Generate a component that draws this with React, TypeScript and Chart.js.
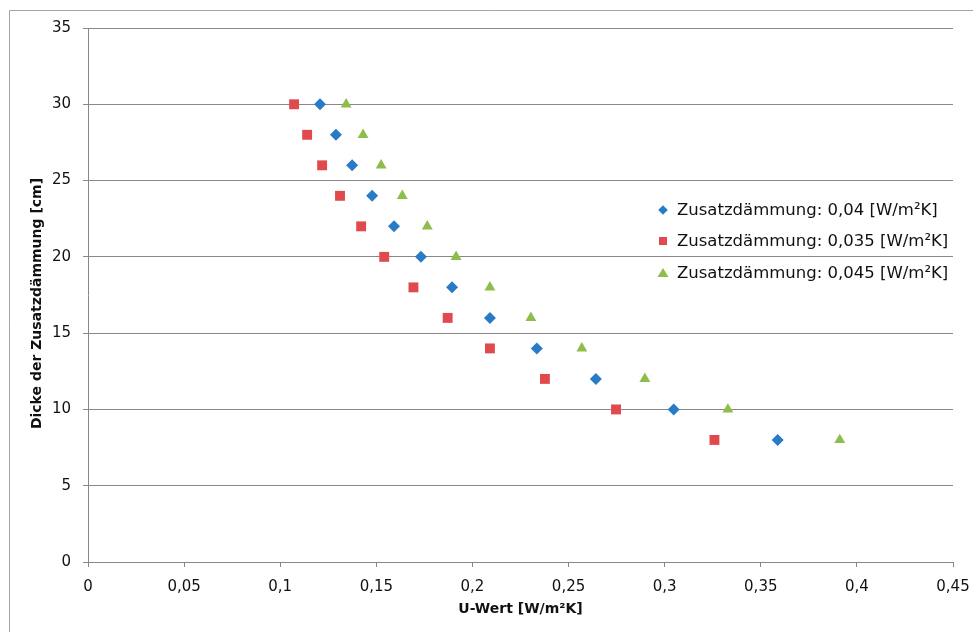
import React, { useEffect, useRef } from "react";
import { Chart, registerables } from "chart.js";

Chart.register(...registerables);

const thicknessCm = [30, 28, 26, 24, 22, 20, 18, 16, 14, 12, 10, 8];
const uValue040 = [0.1207, 0.129, 0.1374, 0.1478, 0.1592, 0.1732, 0.1894, 0.2091, 0.2335, 0.2642, 0.3047, 0.3588];
const uValue035 = [0.1072, 0.114, 0.1218, 0.1311, 0.1421, 0.1541, 0.1693, 0.1871, 0.2091, 0.2377, 0.2747, 0.3259];
const uValue045 = [0.1343, 0.1431, 0.1525, 0.1635, 0.1765, 0.1915, 0.2091, 0.2304, 0.2569, 0.2897, 0.3329, 0.3911];

const seriesLabels = [
  "Zusatzdämmung: 0,04 [W/m²K]",
  "Zusatzdämmung: 0,035 [W/m²K]",
  "Zusatzdämmung: 0,045 [W/m²K]",
];
const xTitle = "U-Wert [W/m²K]";
const yTitle = "Dicke der Zusatzdämmung [cm]";

const COLORS = ["#2a7bc6", "#e04a4c", "#8dbd4b"];
const FONT = "'DejaVu Sans', sans-serif";
const GRID = "#888888";

function pts(xs: number[]) {
  return xs.map((x, i) => ({ x, y: thicknessCm[i] }));
}

function fmt(v: number) {
  return String(Number(Number(v).toFixed(3))).replace(".", ",");
}

function drawMarker(ctx: CanvasRenderingContext2D, style: string, x: number, y: number, color: string) {
  ctx.save();
  ctx.fillStyle = color;
  ctx.beginPath();
  if (style === "rectRot") {
    const r = 4.8;
    ctx.moveTo(x, y - r);
    ctx.lineTo(x + r, y);
    ctx.lineTo(x, y + r);
    ctx.lineTo(x - r, y);
    ctx.closePath();
  } else if (style === "rect") {
    ctx.rect(x - 4, y - 4, 8, 8);
  } else {
    ctx.moveTo(x, y - 5);
    ctx.lineTo(x + 5.5, y + 4);
    ctx.lineTo(x - 5.5, y + 4);
    ctx.closePath();
  }
  ctx.fill();
  ctx.restore();
}

const decorPlugin = {
  id: "decor",
  beforeDraw(chart: any) {
    const ctx = chart.ctx as CanvasRenderingContext2D;
    ctx.save();
    ctx.strokeStyle = "#a4a4a4";
    ctx.lineWidth = 1;
    ctx.beginPath();
    ctx.moveTo(9.5, chart.height);
    ctx.lineTo(9.5, 10.5);
    ctx.lineTo(chart.width, 10.5);
    ctx.stroke();
    ctx.restore();
  },
  afterDraw(chart: any) {
    const ctx = chart.ctx as CanvasRenderingContext2D;
    const area = chart.chartArea;
    ctx.save();
    ctx.fillStyle = "#111";
    ctx.font = `bold 14px ${FONT}`;
    ctx.textAlign = "center";
    ctx.textBaseline = "middle";
    ctx.fillText(xTitle, (area.left + area.right) / 2, 609);
    ctx.save();
    ctx.translate(37.5, 303.5);
    ctx.rotate(-Math.PI / 2);
    ctx.fillText(yTitle, 0, 0);
    ctx.restore();
    const rows = [210, 241, 273];
    ctx.font = `16.5px ${FONT}`;
    ctx.textAlign = "left";
    chart.data.datasets.forEach((ds: any, i: number) => {
      drawMarker(ctx, ds.pointStyle, 663, rows[i], ds.backgroundColor);
      ctx.fillStyle = "#111";
      ctx.fillText(ds.label, 677, rows[i] + 1);
    });
    ctx.restore();
  },
};

export default function App() {
  const ref = useRef<HTMLCanvasElement | null>(null);
  useEffect(() => {
    if (!ref.current) return;
    const chart = new Chart(ref.current, {
      type: "scatter",
      data: {
        datasets: [
          {
            label: seriesLabels[0],
            data: pts(uValue040),
            backgroundColor: COLORS[0],
            borderColor: COLORS[0],
            borderWidth: 0,
            pointStyle: "rectRot",
            pointRadius: 6,
          },
          {
            label: seriesLabels[1],
            data: pts(uValue035),
            backgroundColor: COLORS[1],
            borderColor: COLORS[1],
            borderWidth: 0,
            pointStyle: "rect",
            pointRadius: 7,
          },
          {
            label: seriesLabels[2],
            data: pts(uValue045),
            backgroundColor: COLORS[2],
            borderColor: COLORS[2],
            borderWidth: 0,
            pointStyle: "triangle",
            pointRadius: 6.3,
          },
        ],
      },
      options: {
        responsive: false,
        animation: false,
        devicePixelRatio: 1,
        layout: { padding: { left: 0, top: 28, right: 20, bottom: 0 } },
        plugins: {
          legend: { display: false },
          tooltip: { enabled: false },
          title: { display: false },
        },
        scales: {
          x: {
            type: "linear",
            min: 0,
            max: 0.45,
            afterFit: (s: any) => {
              s.height = 70;
              s.paddingLeft = 0;
              s.paddingRight = 0;
            },
            ticks: {
              stepSize: 0.05,
              padding: 11,
              color: "#111",
              font: { family: FONT, size: 15 },
              callback: (v: any) => fmt(v),
              maxRotation: 0,
            },
            grid: {
              drawOnChartArea: false,
              drawTicks: true,
              tickLength: 5,
              color: GRID,
            },
            border: { display: true, color: GRID, width: 1 },
          },
          y: {
            type: "linear",
            min: 0,
            max: 35,
            afterFit: (s: any) => {
              s.width = 88;
            },
            ticks: {
              stepSize: 5,
              padding: 12,
              color: "#111",
              font: { family: FONT, size: 15 },
              callback: (v: any) => fmt(v),
            },
            grid: {
              drawOnChartArea: true,
              drawTicks: true,
              tickLength: 5,
              color: GRID,
            },
            border: { display: true, color: GRID, width: 1 },
          },
        },
      },
      plugins: [decorPlugin],
    });
    return () => chart.destroy();
  }, []);
  return (
    <div style={{ position: "absolute", left: 0, top: 0, width: 973, height: 632, background: "#fff" }}>
      <canvas ref={ref} width={973} height={632} style={{ display: "block" }} />
    </div>
  );
}
